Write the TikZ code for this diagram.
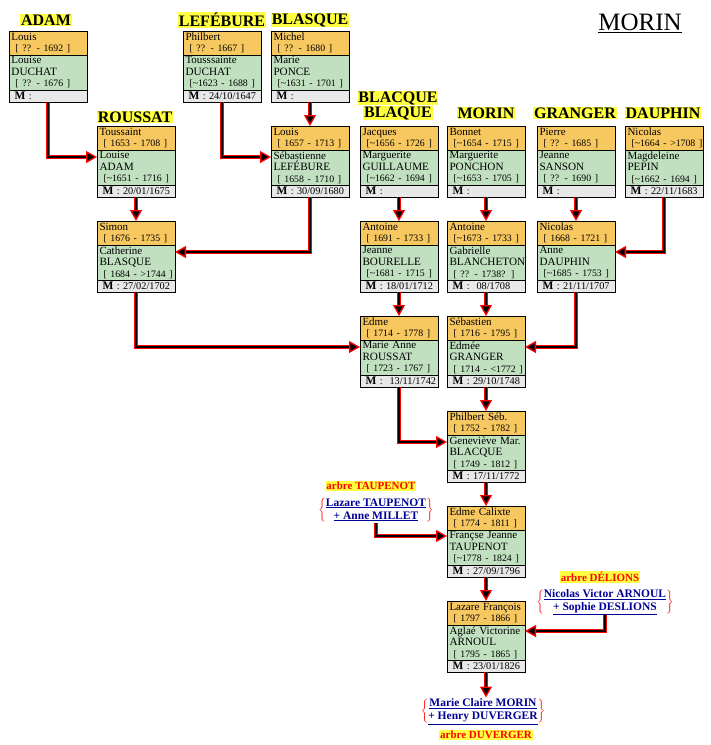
\documentclass[tikz,border=0pt]{standalone}
\usepackage{fontspec}
\setmainfont{Liberation Serif}
\usetikzlibrary{arrows.meta, positioning}

\definecolor{husband}{RGB}{248,200,96}
\definecolor{wife}{RGB}{192,224,192}
\definecolor{wedding}{RGB}{232,232,232}
\definecolor{hilite}{RGB}{255,255,64}
\definecolor{linkblue}{RGB}{0,0,150}

\newcommand{\datefont}{\fontsize{9.8}{11.5}\selectfont}
\newcommand{\surfont}{\fontsize{11.2}{11.5}\selectfont}

% one couple: name, top left corner, husband, his dates, wife, her surname, her dates, wedding
\newcommand{\couple}[8]{%
\node[hbox, anchor=north west] (#1) at (#2) {\mbox{#3}\\\hspace*{4pt}\mbox{\datefont #4}};
\node[wbox, below=0pt of #1] (#1-w) {\mbox{#5}\\\mbox{\surfont #6}\\\hspace*{4pt}\mbox{\datefont #7}};
\node[mbox, below=0pt of #1-w] (#1-m) {\hspace*{3pt}\mbox{{\bfseries\fontsize{11.5}{10}\selectfont M} : #8}};
}
\newcommand{\branch}[2]{$\color{red}\left\{\textcolor{linkblue}{\begin{tabular}{@{}c@{}}\underline{#1}\\\underline{#2}\end{tabular}}\right\}$}

\tikzset{
cell/.style={draw=black, line width=0.8pt, outer sep=0pt, inner xsep=2.5pt, inner ysep=0.3pt, text width=73pt, align=left, font=\fontsize{11}{11.5}\selectfont},
hbox/.style={cell, fill=husband, minimum height=24pt},
wbox/.style={cell, fill=wife, minimum height=35pt},
mbox/.style={cell, fill=wedding, minimum height=12pt, font=\fontsize{10.3}{10}\selectfont},
famname/.style={fill=hilite, inner sep=0.8pt, align=center, font=\bfseries\fontsize{16}{15}\selectfont},
arbre/.style={fill=hilite, text=red, inner sep=0.8pt, font=\bfseries\fontsize{11}{11}\selectfont},
cpl/.style={inner sep=0pt, font=\bfseries\fontsize{11.5}{13}\selectfont},
link/.style={draw=red, line width=1.3pt, double=black, double distance=1.6pt, -{Triangle[length=11pt,width=12pt,fill=black]}}
}

\begin{document}
\begin{tikzpicture}[x=1pt,y=-1pt]
\useasboundingbox (0,0) rectangle (711,745);

% family names
\node[famname] (t-adam) at (46,20) {ADAM};
\node[famname] (t-lefebure) at (222,20) {LEFÉBURE};
\node[famname] (t-blasque) at (310,20) {BLASQUE};
\node[famname] (t-roussat) at (135,117) {ROUSSAT};
\node[famname] (t-blacque) at (398,98) {BLACQUE};
\node[famname] (t-blaque) at (398,113) {BLAQUE};
\node[famname] (t-morin) at (486,113) {MORIN};
\node[famname] (t-granger) at (575,113) {GRANGER};
\node[famname] (t-dauphin) at (663,113) {DAUPHIN};
\node[font=\fontsize{25}{25}\selectfont, inner sep=0pt] (title) at (640,22) {MORIN};
\draw[line width=1.4pt] ([yshift=-2pt]title.south west) -- ([yshift=-2pt]title.south east);

% couples
\couple{adam}{9,31}{Louis}{[ ?? - 1692 ]}{Louise}{DUCHAT}{[ ?? - 1676 ]}{}
\couple{lefebure}{183,31}{Philbert}{[ ?? - 1667 ]}{Tousssainte}{DUCHAT}{[\textasciitilde1623 - 1688 ]}{24/10/1647}
\couple{blasque}{271,31}{Michel}{[ ?? - 1680 ]}{Marie}{PONCE}{[\textasciitilde1631 - 1701 ]}{}
\couple{roussat}{97,126}{Toussaint}{[ 1653 - 1708 ]}{Louise}{ADAM}{[\textasciitilde1651 - 1716 ]}{20/01/1675}
\couple{blasqueb}{271,126}{Louis}{[ 1657 - 1713 ]}{Sébastienne}{LEFÉBURE}{[ 1658 - 1710 ]}{30/09/1680}
\couple{blacque}{360,126}{Jacques}{[\textasciitilde1656 - 1726 ]}{Marguerite}{GUILLAUME}{[\textasciitilde1662 - 1694 ]}{}
\couple{morin}{447,126}{Bonnet}{[\textasciitilde1654 - 1715 ]}{Marguerite}{PONCHON}{[\textasciitilde1653 - 1705 ]}{}
\couple{granger}{537,126}{Pierre}{[ ?? - 1685 ]}{Jeanne}{SANSON}{[ ?? - 1690 ]}{}
\couple{dauphin}{625,126}{Nicolas}{[\textasciitilde1664 - >1708 ]}{Magdeleine}{PEPIN}{[\textasciitilde1662 - 1694 ]}{22/11/1683}
\couple{simon}{97,221}{Simon}{[ 1676 - 1735 ]}{Catherine}{BLASQUE}{[ 1684 - >1744 ]}{27/02/1702}
\couple{antoineb}{360,221}{Antoine}{[ 1691 - 1733 ]}{Jeanne}{BOURELLE}{[\textasciitilde1681 - 1715 ]}{18/01/1712}
\couple{antoinem}{447,221}{Antoine}{[\textasciitilde1673 - 1733 ]}{Gabrielle}{BLANCHETON}{[ ?? - 1738? ]}{\ 08/1708}
\couple{nicolas}{537,221}{Nicolas}{[ 1668 - 1721 ]}{Anne}{DAUPHIN}{[\textasciitilde1685 - 1753 ]}{21/11/1707}
\couple{edme}{360,316}{Edme}{[ 1714 - 1778 ]}{Marie Anne}{ROUSSAT}{[ 1723 - 1767 ]}{\ 13/11/1742}
\couple{sebastien}{447,316}{Sébastien}{[ 1716 - 1795 ]}{Edmée}{GRANGER}{[ 1714 - <1772 ]}{29/10/1748}
\couple{philbert}{447,411}{Philbert Séb.}{[ 1752 - 1782 ]}{Geneviève Mar.}{BLACQUE}{[ 1749 - 1812 ]}{17/11/1772}
\couple{calixte}{447,506}{Edme Calixte}{[ 1774 - 1811 ]}{Françse Jeanne}{TAUPENOT}{[\textasciitilde1778 - 1824 ]}{27/09/1796}
\couple{lazare}{447,601}{Lazare François}{[ 1797 - 1866 ]}{Aglaé Victorine}{ARNOUL}{[ 1795 - 1865 ]}{23/01/1826}

% other trees
\node[arbre] (a-taupenot) at (371,486) {arbre TAUPENOT};
\node[cpl] (taupenot) at (376,510) {\branch{Lazare TAUPENOT}{+ Anne MILLET}};
\node[arbre] (a-delions) at (600,577) {arbre DÉLIONS};
\node[cpl] (delions) at (605,602) {\branch{Nicolas Victor ARNOUL}{+ Sophie DESLIONS}};
\node[cpl] (duverger) at (483,711) {\branch{Marie Claire MORIN}{+ Henry DUVERGER}};
\node[arbre] (a-duverger) at (486,735) {arbre DUVERGER};

% links
\draw[link] (adam-m.south) |- ([yshift=-7pt]roussat-w.north west);
\draw[link] (lefebure-m.south) |- ([yshift=-7pt]blasqueb-w.north west);
\draw[link] (blasque-m.south) -- (blasqueb.north);
\draw[link] (roussat-m.south) -- (simon.north);
\draw[link] (blasqueb-m.south) |- ([yshift=-7pt]simon-w.north east);
\draw[link] (blacque-m.south) -- (antoineb.north);
\draw[link] (morin-m.south) -- (antoinem.north);
\draw[link] (granger-m.south) -- (nicolas.north);
\draw[link] (dauphin-m.south) |- ([yshift=-7pt]nicolas-w.north east);
\draw[link] (simon-m.south) |- ([yshift=-7pt]edme-w.north west);
\draw[link] (antoineb-m.south) -- (edme.north);
\draw[link] (antoinem-m.south) -- (sebastien.north);
\draw[link] (nicolas-m.south) |- ([yshift=-7pt]sebastien-w.north east);
\draw[link] (edme-m.south) |- ([yshift=-7pt]philbert-w.north west);
\draw[link] (sebastien-m.south) -- (philbert.north);
\draw[link] (philbert-m.south) -- (calixte.north);
\draw[link] (taupenot.south) |- ([yshift=-6pt]calixte-w.north west);
\draw[link] (calixte-m.south) -- (lazare.north);
\draw[link] (delions.south) |- ([yshift=-6pt]lazare-w.north east);
\draw[link] (lazare-m.south) -- (lazare-m.south |- duverger.north);
\end{tikzpicture}
\end{document}
